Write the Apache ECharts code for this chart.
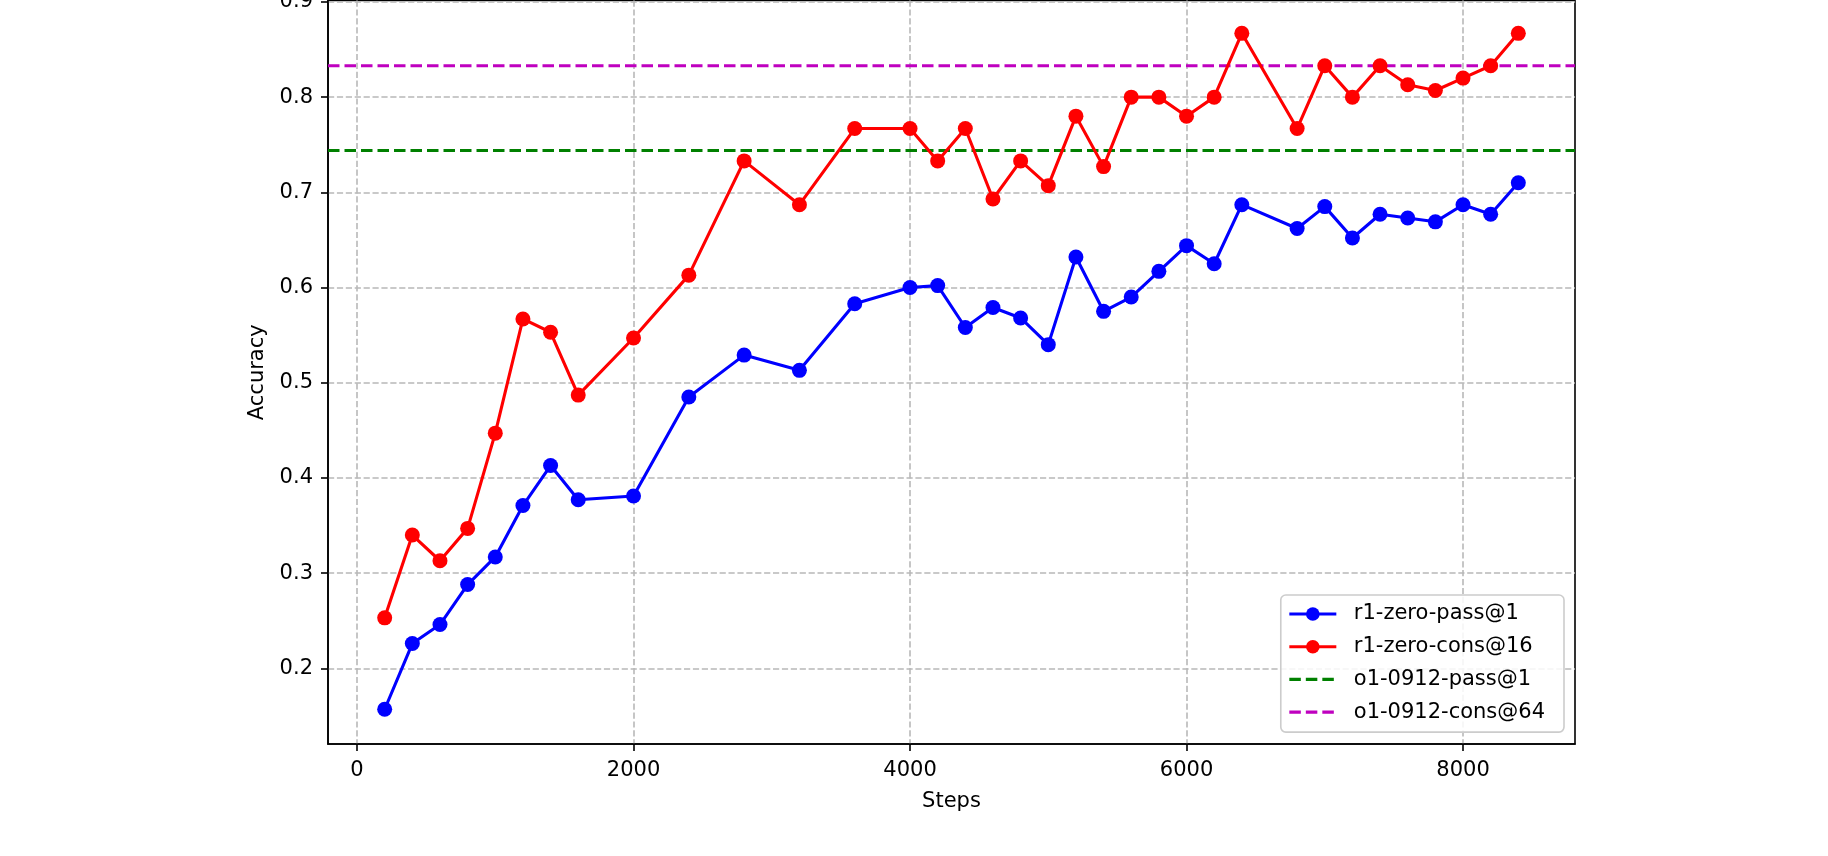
<!DOCTYPE html>
<html>
<head>
<meta charset="utf-8">
<script src="https://cdn.jsdelivr.net/npm/echarts@6/dist/echarts.min.js"></script>
<style>
html,body{margin:0;padding:0;background:#fff;}
#chart{width:1828px;height:856px;}
</style>
</head>
<body>
<div id="chart"></div>
<script>
// ---- data ----
const steps = [200,400,600,800,1000,1200,1400,1600,2000,2400,2800,3200,3600,4000,4200,4400,4600,4800,5000,5200,5400,5600,5800,6000,6200,6400,6800,7000,7200,7400,7600,7800,8000,8200,8400];
const passAt1 = [0.157,0.226,0.246,0.288,0.317,0.371,0.413,0.377,0.381,0.485,0.529,0.513,0.583,0.600,0.602,0.558,0.579,0.568,0.540,0.632,0.575,0.590,0.617,0.644,0.625,0.687,0.662,0.685,0.652,0.677,0.673,0.669,0.687,0.677,0.710];
const consAt16 = [0.253,0.340,0.313,0.347,0.447,0.567,0.553,0.487,0.547,0.613,0.733,0.687,0.767,0.767,0.733,0.767,0.693,0.733,0.707,0.780,0.727,0.800,0.800,0.780,0.800,0.867,0.767,0.833,0.800,0.833,0.813,0.807,0.820,0.833,0.867];
const o1PassAt1 = 0.744;
const o1ConsAt64 = 0.833;
const seriesNames = ['r1-zero-pass@1','r1-zero-cons@16','o1-0912-pass@1','o1-0912-cons@64'];
const xTicks = [0,2000,4000,6000,8000];
const yTicks = [0.2,0.3,0.4,0.5,0.6,0.7,0.8,0.9];
const xRange = [-210, 8810];
const yRange = [0.1205, 0.9015];

const FONT = 'DejaVu Sans';
const toPairs = (xs, ys) => xs.map((x, i) => [x, ys[i]]);
const hline = v => [[xRange[0], v], [xRange[1], v]];

const chart = echarts.init(document.getElementById('chart'), null, {renderer: 'canvas'});
const lw = 3.1;
const dash = [11.5, 5];
const gridDash = [6.2, 2.7];
const hiddenSymbol = {color: 'rgba(0,0,0,0)', borderWidth: 0, opacity: 0};

chart.setOption({
  animation: false,
  backgroundColor: '#ffffff',
  textStyle: {fontFamily: FONT},
  grid: {left: 328, right: 253, top: 0.5, bottom: 112, outerBoundsMode: 'none', containLabel: false,
         show: true, borderColor: '#000', borderWidth: 1.6, backgroundColor: 'transparent'},
  xAxis: {
    type: 'value', min: xRange[0], max: xRange[1], splitNumber: 4,
    name: 'Steps', nameLocation: 'middle', nameGap: 47,
    nameTextStyle: {fontFamily: FONT, fontSize: 21, color: '#000'},
    axisLine: {show: true, onZero: false, lineStyle: {color: '#000', width: 1.6}},
    axisTick: {show: true, inside: false, length: 7, lineStyle: {color: '#000', width: 1.6}, customValues: xTicks},
    axisLabel: {show: true, margin: 16, fontFamily: FONT, fontSize: 21, color: '#000', customValues: xTicks, formatter: v => String(v)},
    splitLine: {show: true, lineStyle: {color: '#b8b8b8', width: 1.6, type: gridDash}}
  },
  yAxis: {
    type: 'value', min: yRange[0], max: yRange[1], splitNumber: 8,
    name: 'Accuracy', nameLocation: 'middle', nameGap: 60,
    nameTextStyle: {fontFamily: FONT, fontSize: 21, color: '#000'},
    axisLine: {show: true, onZero: false, lineStyle: {color: '#000', width: 1.6}},
    axisTick: {show: true, inside: false, length: 7, lineStyle: {color: '#000', width: 1.6}, customValues: yTicks},
    axisLabel: {show: true, margin: 15, fontFamily: FONT, fontSize: 21, color: '#000', customValues: yTicks, formatter: v => v.toFixed(1)},
    splitLine: {show: true, lineStyle: {color: '#b8b8b8', width: 1.6, type: gridDash}}
  },
  legend: {
    show: true, orient: 'vertical', right: 264, top: 595,
    backgroundColor: 'rgba(255,255,255,0.85)', borderColor: '#cccccc', borderWidth: 1.6, borderRadius: 5,
    padding: [7, 19, 8, 7], itemWidth: 47, itemHeight: 17, itemGap: 8.7,
    lineStyle: {width: 3.1},
    textStyle: {fontFamily: FONT, fontSize: 21, color: '#000', lineHeight: 24, padding: [0, 0, 0, 12.5]},
    data: [
      {name: seriesNames[0]},
      {name: seriesNames[1]},
      {name: seriesNames[2], itemStyle: hiddenSymbol},
      {name: seriesNames[3], itemStyle: hiddenSymbol}
    ]
  },
  series: [
    {name: seriesNames[0], type: 'line', data: toPairs(steps, passAt1), symbol: 'circle', symbolSize: 15,
     itemStyle: {color: '#0000ff'}, lineStyle: {color: '#0000ff', width: lw}, z: 5},
    {name: seriesNames[1], type: 'line', data: toPairs(steps, consAt16), symbol: 'circle', symbolSize: 15,
     itemStyle: {color: '#ff0000'}, lineStyle: {color: '#ff0000', width: lw}, z: 5},
    {name: seriesNames[2], type: 'line', data: hline(o1PassAt1), symbol: 'none', silent: true,
     itemStyle: {color: '#008000'}, lineStyle: {color: '#008000', width: lw, type: dash}, z: 4},
    {name: seriesNames[3], type: 'line', data: hline(o1ConsAt64), symbol: 'none', silent: true,
     itemStyle: {color: '#bf00bf'}, lineStyle: {color: '#bf00bf', width: lw, type: dash}, z: 4}
  ]
});
</script>
</body>
</html>
